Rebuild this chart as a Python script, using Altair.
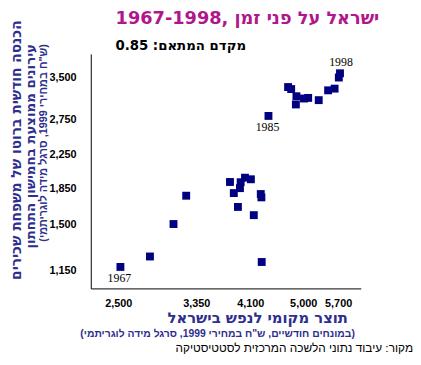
import altair as alt
import pandas as pd

# GDP per capita (x) vs. bottom-quintile family income (y), monthly NIS, 1999 prices
gdp = [2520, 2815, 3075, 3225, 3800, 3855, 3955, 3945, 4020, 4110, 3915, 4155,
       4265, 4275, 4280, 4390, 4725, 4780, 4875, 4865, 5015, 5095, 5300, 5490,
       5625, 5715, 5740]
income = [1177, 1250, 1507, 1774, 1920, 1801, 1917, 1853, 1968, 1950, 1663, 1586,
          1791, 1757, 1211, 2809, 3317, 3279, 3146, 3001, 3105, 3116, 3076, 3255,
          3287, 3504, 3591]

lab_above_year = ["1998"]
lab_above_x = [5740]
lab_above_y = [3591]
lab_below_year = ["1967", "1985"]
lab_below_x = [2520, 4390]
lab_below_y = [1177, 2809]

x_ticks = [2500, 3350, 4100, 5000, 5700]
y_ticks = [1150, 1500, 1850, 2250, 2750, 3500]
x_domain = [2255, 6205]
y_domain = [1040, 4015]

RLM = "\u200F"
def rtl(s):
    return RLM + s + RLM

title_txt = "1967-1998, ישראל על פני זמן"
corr_txt = "0.85  :מקדם המתאם"
ytitle = ["הכנסה חודשית ברוטו של משפחת שכירים",
          "עירונים ממוצעת בחמישון התחתון",
          rtl('(ש"ח במחירי 1999, סרגל מידה לוגריתמי)')]
xtitle = ["תוצר מקומי לנפש בישראל",
          rtl('(במונחים חודשיים, ש"ח במחירי 1999, סרגל מידה לוגריתמי)')]
source_txt = "מקור: עיבוד נתוני הלשכה המרכזית לסטטיסטיקה"

df = pd.DataFrame({"gdp": gdp, "income": income})

xs = alt.Scale(type="log", domain=x_domain, nice=False, zero=False)
ys = alt.Scale(type="log", domain=y_domain, nice=False, zero=False)

xenc = alt.X("gdp:Q", scale=xs,
             axis=alt.Axis(values=x_ticks, format=",", title=None, ticks=False,
                           grid=False, labelPadding=9, domainColor="black",
                           labelFont="Liberation Sans", labelFontWeight="bold",
                           labelFontSize=11, labelColor="black"))
yenc = alt.Y("income:Q", scale=ys,
             axis=alt.Axis(values=y_ticks, format=",", title=None, ticks=False,
                           grid=False, labelPadding=15, domainColor="black",
                           labelFont="Liberation Sans", labelFontWeight="bold",
                           labelFontSize=11, labelColor="black"))

points = alt.Chart(df).mark_square(size=64, color="#000080", opacity=1).encode(
    x=xenc, y=yenc)

lab_a = alt.Chart(pd.DataFrame({"gdp": lab_above_x, "income": lab_above_y,
                                "yr": lab_above_year})).mark_text(
    font="Liberation Serif", fontSize=12, color="black", dy=-11, dx=1
).encode(x=alt.X("gdp:Q", scale=xs), y=alt.Y("income:Q", scale=ys), text="yr:N")

lab_b = alt.Chart(pd.DataFrame({"gdp": lab_below_x, "income": lab_below_y,
                                "yr": lab_below_year})).mark_text(
    font="Liberation Serif", fontSize=12, color="black", dy=11, dx=-1
).encode(x=alt.X("gdp:Q", scale=xs), y=alt.Y("income:Q", scale=ys), text="yr:N")


def txt(s, x, y, size, color, weight="bold", angle=0, align="center", font="Liberation Sans"):
    kw = dict(font=font, fontSize=size, color=color, fontWeight=weight,
              align=align, baseline="middle")
    if angle:
        kw["angle"] = angle
    return alt.Chart(pd.DataFrame({"t": [s]})).mark_text(**kw).encode(
        x=alt.value(x), y=alt.value(y), text="t:N")

navy = "#2E2E8E"
layers = [
    points, lab_a, lab_b,
    txt(title_txt, 159, -35, 18, "#B0178C", font="DejaVu Sans"),
    txt(corr_txt, 25, -8, 13.5, "black", align="left", font="DejaVu Sans"),
    txt(ytitle[0], -75, -34, 14, navy, angle=270, align="right", font="DejaVu Sans"),
    txt(ytitle[1], -61, -10, 13.5, navy, angle=270, align="right", font="DejaVu Sans"),
    txt(ytitle[2], -47, -10, 11, navy, angle=270, align="right"),
    txt(xtitle[0], 261, 268, 15, navy, align="right", font="DejaVu Sans"),
    txt(xtitle[1], 268, 284, 10.5, navy, align="right"),
    txt(source_txt, 327, 299, 12, "black", weight="normal", align="right"),
]

chart = alt.layer(*layers).properties(
    width=274, height=238,
    autosize=alt.AutoSizeParams(type="none"),
    padding={"left": 84, "top": 44, "right": 53, "bottom": 66},
    background="white",
).configure_view(stroke=None)

chart.save("out.html", embed_options={"renderer": "svg", "actions": False})
